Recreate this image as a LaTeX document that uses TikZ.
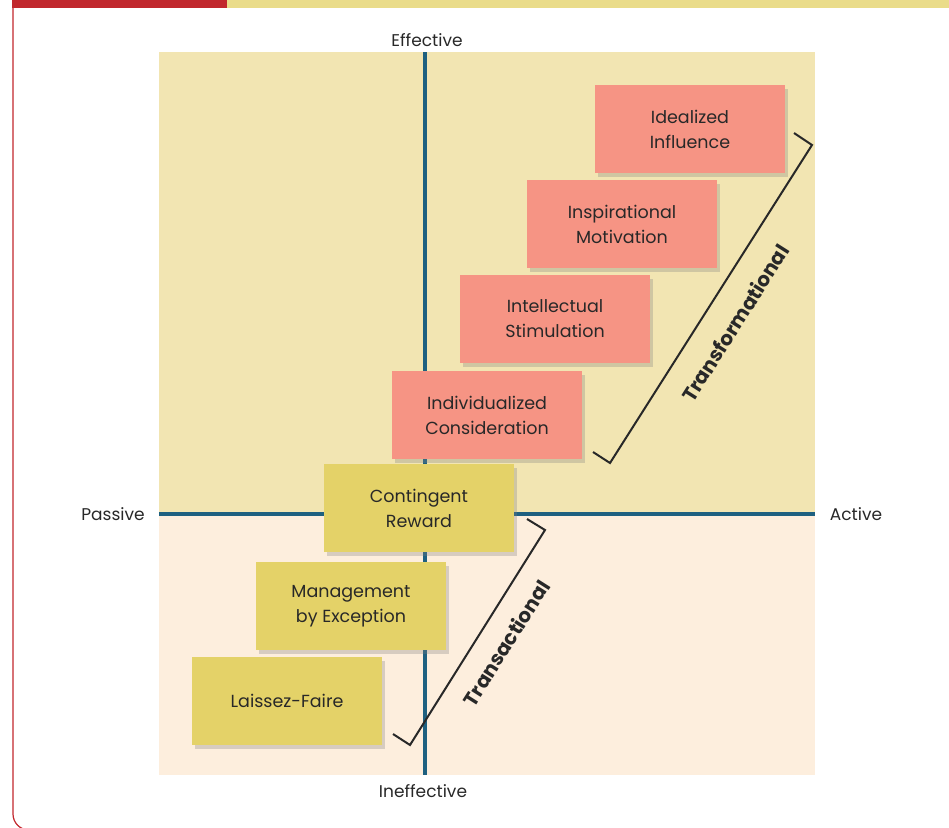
\documentclass[tikz,border=0pt]{standalone}
\usepackage{fontspec}
\setmainfont{Poppins}
\usetikzlibrary{shadows}
\definecolor{pinkbox}{RGB}{246,148,132}
\definecolor{yelbox}{RGB}{228,210,104}
\definecolor{topbg}{RGB}{242,229,178}
\definecolor{botbg}{RGB}{253,238,221}
\definecolor{axisblue}{RGB}{30,96,128}
\definecolor{barred}{RGB}{193,39,45}
\definecolor{baryel}{RGB}{234,220,138}
\definecolor{txt}{RGB}{40,40,40}
\begin{document}
\begin{tikzpicture}[x=1pt,y=-1pt,
  boxbase/.style={minimum width=190pt,minimum height=88pt,align=center,inner sep=0pt,
    text=txt,font=\fontsize{17.5}{25}\selectfont,
    drop shadow={shadow xshift=3pt,shadow yshift=-4pt,opacity=0.3}},
  tbox/.style={boxbase,fill=pinkbox},
  ybox/.style={boxbase,fill=yelbox},
  axlabel/.style={text=txt,font=\fontsize{17}{20}\selectfont},
  brk/.style={draw=txt,line width=2pt},
  brklabel/.style={text=txt,font=\fontsize{20}{22}\selectfont\bfseries,rotate=57.6}]
\useasboundingbox (0,0) rectangle (949,827);
\clip (0,0) rectangle (949,827);
% top bar
\fill[barred] (12,0) rectangle (227,8);
\fill[baryel] (227,0) rectangle (949,8);
% frame
\draw[barred,line width=1.2pt,rounded corners=16pt] (13,8) -- (13,830) -- (960,830);
% quadrants
\fill[topbg] (159,52) rectangle (815,514);
\fill[botbg] (159,514) rectangle (815,775);
% axes
\coordinate (vtop) at (425,52);
\coordinate (vbot) at (425,775);
\coordinate (hleft) at (159,514);
\coordinate (hright) at (815,514);
\draw[axisblue,line width=4pt] (vtop) -- (vbot);
\draw[axisblue,line width=4pt] (hleft) -- (hright);
% axis labels
\node[axlabel] (eff) at (427,40) {Effective};
\node[axlabel] (ineff) at (423,791) {Ineffective};
\node[axlabel] (pas) at (113,514) {Passive};
\node[axlabel] (act) at (856,514) {Active};
% boxes
\node[tbox] (ii) at (690,129) {Idealized\\Influence};
\node[tbox] (im) at (622,224) {Inspirational\\Motivation};
\node[tbox] (is) at (555,319) {Intellectual\\Stimulation};
\node[tbox] (ic) at (487,415) {Individualized\\Consideration};
\node[ybox] (cr) at (419,508) {Contingent\\Reward};
\node[ybox] (me) at (351,606) {Management\\by Exception};
\node[ybox] (lf) at (287,701) {Laissez-Faire};
% transformational bracket
\coordinate (t1) at (794,133);
\coordinate (t2) at (812,145);
\coordinate (t3) at (610,463);
\coordinate (t4) at (593,452);
\draw[brk] (t1) -- (t2) -- (t3) -- (t4);
\node[brklabel] (tfl) at (735,323) {Transformational};
% transactional bracket
\coordinate (r1) at (527,519);
\coordinate (r2) at (545,530);
\coordinate (r3) at (410,745);
\coordinate (r4) at (393,734);
\draw[brk] (r1) -- (r2) -- (r3) -- (r4);
\node[brklabel] (tcl) at (506,643) {Transactional};
\end{tikzpicture}
\end{document}
